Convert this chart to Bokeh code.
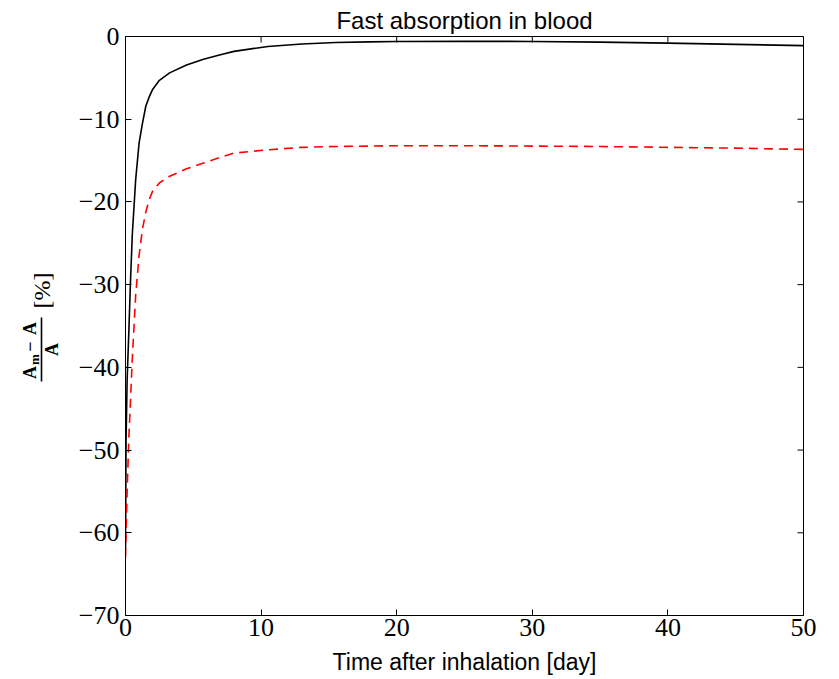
import numpy as np
from bokeh.plotting import figure
from bokeh.layouts import row
from bokeh.models import CustomJSTickFormatter, FixedTicker, Range1d
from bokeh.core.properties import value
from bokeh.embed import file_html
from bokeh.resources import INLINE

# ---- data ----
time_days = [0, 0.04, 0.12, 0.25, 0.37, 0.5, 0.75, 1.0, 1.25, 1.5, 1.75, 2.0,
             2.5, 3.25, 4.5, 5.75, 7.0, 8.0, 10.5, 13.0, 15.5, 18.0, 20.0,
             25.0, 30.0, 35.0, 40.0, 45.0, 50.0]
series_black = [-62.0, -49.0, -41.5, -35.5, -29.5, -24.0, -17.3, -12.9, -10.5,
                -8.4, -7.3, -6.4, -5.3, -4.4, -3.45, -2.75, -2.2, -1.8, -1.2,
                -0.9, -0.73, -0.65, -0.6, -0.58, -0.6, -0.68, -0.8, -0.95, -1.1]
series_red = [-63.0, -60.0, -55.0, -48.4, -44.0, -39.0, -31.3, -26.5, -23.3,
              -21.2, -19.7, -18.7, -17.7, -16.9, -16.0, -15.3, -14.6, -14.1,
              -13.7, -13.4, -13.3, -13.25, -13.2, -13.2, -13.25, -13.3, -13.4,
              -13.5, -13.65]
x_ticks = [0, 10, 20, 30, 40, 50]
y_ticks = [-70, -60, -50, -40, -30, -20, -10, 0]

title_text = "Fast absorption in blood"
xlabel_text = "Time after inhalation [day]"

# ---- layout geometry (pixels) ----
LW = 65                        # strip holding the y label
BL, BR, BT, BB = 60, 27, 36, 64
FW, FH = 678, 579
PW = BL + FW + BR
PH = BT + FH + BB

X_RANGE = (0, 50)
Y_RANGE = (-70, 0)

# ---- main figure ----
p = figure(width=PW, height=PH, title=title_text,
           x_range=Range1d(*X_RANGE), y_range=Range1d(*Y_RANGE),
           output_backend="svg", toolbar_location=None,
           min_border_left=BL, min_border_right=BR,
           min_border_top=BT, min_border_bottom=BB)
p.grid.visible = False
p.outline_line_color = "black"
p.outline_line_width = 1
p.background_fill_color = "white"
p.border_fill_color = "white"

p.title.align = "center"
p.title.text_font = "Liberation Sans"
p.title.text_font_style = "normal"
p.title.text_font_size = "24px"
p.title.text_color = "black"
p.title.standoff = 6

minus_fmt = CustomJSTickFormatter(code="return (tick < 0 ? '\\u2212' : '') + Math.abs(tick).toString();")

for ax in p.xaxis:
    ax.ticker = FixedTicker(ticks=x_ticks)
    ax.axis_label = xlabel_text
    ax.axis_label_text_font = "Liberation Sans"
    ax.axis_label_text_font_style = "normal"
    ax.axis_label_text_font_size = "23px"
    ax.axis_label_text_color = "black"
    ax.axis_label_standoff = 10
for ax in p.yaxis:
    ax.ticker = FixedTicker(ticks=y_ticks)
for ax in list(p.xaxis) + list(p.yaxis):
    ax.formatter = minus_fmt
    ax.major_tick_in = 6
    ax.major_tick_out = 0
    ax.minor_tick_line_color = None
    ax.axis_line_color = "black"
    ax.major_tick_line_color = "black"
    ax.major_label_text_font = "Liberation Serif"
    ax.major_label_text_font_size = "26px"
    ax.major_label_text_color = "black"
p.yaxis.major_label_standoff = 6
p.xaxis.major_label_standoff = 3

# inward ticks on the top and right spines (half of each dash is clipped by the frame)
p.scatter(x=x_ticks, y=[Y_RANGE[1]] * len(x_ticks), marker="dash", size=12,
          angle=np.pi / 2, line_color="black", line_width=1)
p.scatter(x=[X_RANGE[1]] * len(y_ticks), y=y_ticks, marker="dash", size=12,
          line_color="black", line_width=1)

# ---- curves ----
p.line(time_days, series_black, line_color="black", line_width=1.6)
p.line(time_days, series_red, line_color="red", line_width=1.6, line_dash="9 6")

# ---- y label strip: built-up fraction (A_m - A)/A [%], vertical frame = plot frame ----
q = figure(width=LW, height=PH, title=None, x_range=Range1d(0, LW),
           y_range=Range1d(*Y_RANGE), output_backend="svg",
           toolbar_location=None, x_axis_location=None, y_axis_location=None,
           min_border_left=0, min_border_right=0,
           min_border_top=BT, min_border_bottom=BB)
q.grid.visible = False
q.outline_line_color = None
q.border_fill_color = "white"
q.background_fill_color = "white"

def vy(py):    # pixel row from the top of the page -> value scale
    return Y_RANGE[1] - (py - BT) * (Y_RANGE[1] - Y_RANGE[0]) / FH

ang = np.pi / 2
serif = value("Liberation Serif")
q.text(x=[29, 29, 29], y=[vy(372), vy(346), vy(328)], text=["A", "\u2212", "A"],
       angle=ang, text_align="center", text_baseline="middle",
       text_font=serif, text_font_style="bold", text_font_size="18px",
       text_color="black")
q.text(x=[34], y=[vy(359)], text=["m"], angle=ang, text_align="center",
       text_baseline="middle", text_font=serif, text_font_style="bold",
       text_font_size="13px", text_color="black")
q.text(x=[51], y=[vy(349)], text=["A"], angle=ang, text_align="center",
       text_baseline="middle", text_font=serif, text_font_style="bold",
       text_font_size="18px", text_color="black")
q.line(x=[41, 41], y=[vy(317), vy(381)], line_color="black", line_width=1.6)
q.text(x=[41], y=[vy(290)], text=["[%]"], angle=ang, text_align="center",
       text_baseline="middle", text_font=serif, text_font_size="24px",
       text_color="black")

layout = row(q, p, spacing=0)
open("out.html", "w").write(file_html(layout, INLINE))
